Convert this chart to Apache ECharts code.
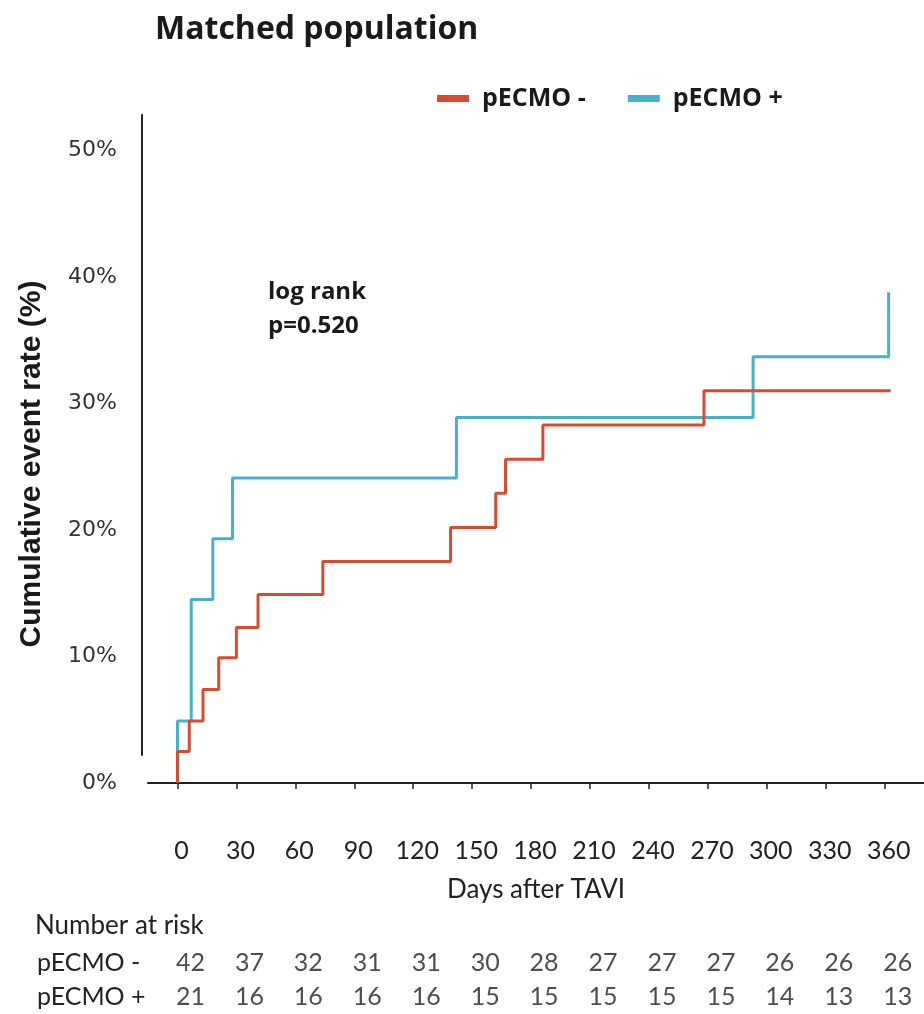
<!DOCTYPE html>
<html>
<head>
<meta charset="utf-8">
<script src="https://cdn.jsdelivr.net/npm/echarts@6/dist/echarts.min.js"></script>
<style>html,body{margin:0;padding:0;background:#fff;}#c{width:924px;height:1014px;}</style>
</head>
<body>
<div id="c"></div>
<script>
// Kaplan-Meier step points (days after TAVI, cumulative event rate %)
var minusDays  = [0, 0, 6, 13, 21, 30, 41, 74, 139, 162, 167, 186, 268, 363];
var minusRates = [0, 2.5, 4.9, 7.4, 9.9, 12.3, 14.9, 17.5, 20.2, 22.9, 25.6, 28.3, 31.0, 31.0];
var plusDays   = [0, 0, 7, 18, 28, 142, 293, 362];
var plusRates  = [0, 4.9, 14.5, 19.3, 24.1, 28.9, 33.7, 38.8];

var xTicks = [0, 30, 60, 90, 120, 150, 180, 210, 240, 270, 300, 330, 360];
var yTicks = [0, 10, 20, 30, 40, 50];

var riskGroups = ['pECMO -', 'pECMO +'];
var riskMinus = [42, 37, 32, 31, 31, 30, 28, 27, 27, 27, 26, 26, 26];
var riskPlus  = [21, 16, 16, 16, 16, 15, 15, 15, 15, 15, 14, 13, 13];

function zip(a, b) { return a.map(function (v, i) { return [v, b[i]]; }); }
var riskData = [];
xTicks.forEach(function (d, i) {
  riskData.push([d, riskGroups[0], riskMinus[i]]);
  riskData.push([d, riskGroups[1], riskPlus[i]]);
});

var RED = '#DC4A2E', BLUE = '#43B3CA', TXT = '#1a1a1a';
var chart = echarts.init(document.getElementById('c'), null, {renderer: 'canvas'});
chart.setOption({
  backgroundColor: '#fff',
  animation: false,
  title: {
    text: 'Matched population', left: 150, top: 9,
    textStyle: {fontFamily: 'Open Sans', fontWeight: 'bold', fontSize: 32, color: TXT}
  },
  legend: {
    left: 432, top: 81, itemWidth: 32, itemHeight: 7, itemGap: 42, icon: 'rect',
    data: ['pECMO -', 'pECMO +'],
    textStyle: {fontFamily: 'Open Sans', fontWeight: 'bold', fontSize: 25, color: TXT, padding: [0, 0, 0, 8]}
  },
  grid: [
    {left: 148, right: 0, top: 115, bottom: 201},
    {left: 142, width: 10, top: 115, bottom: 259},
    {left: 148, right: 0, top: 946, height: 68}
  ],
  xAxis: [
    {
      gridIndex: 0, type: 'value', min: -15, max: 380,
      axisLine: {show: true, lineStyle: {color: '#222', width: 2}},
      axisTick: {show: true, customValues: xTicks, length: 6, lineStyle: {color: '#222', width: 1.5}},
      axisLabel: {customValues: xTicks, fontFamily: 'Lato', fontSize: 25, color: '#222', margin: 25, padding: [0, 0, 0, 8]},
      splitLine: {show: false},
      name: 'Days after TAVI', nameLocation: 'middle', nameGap: 64,
      nameTextStyle: {fontFamily: 'Lato', fontSize: 26, color: '#222'}
    },
    {gridIndex: 1, type: 'value', show: false},
    {gridIndex: 2, type: 'value', min: -15, max: 380, show: false}
  ],
  yAxis: [
    {
      gridIndex: 0, type: 'value', min: -2.37, max: 52.8,
      axisLine: {show: false}, axisTick: {show: false}, splitLine: {show: false},
      axisLabel: {customValues: yTicks, formatter: '{value}%', fontFamily: 'DejaVu Sans', fontSize: 22, color: '#333', margin: 31, padding: [8, 0, 0, 0]},
      name: 'Cumulative event rate (%)', nameLocation: 'middle', nameRotate: 90, nameGap: 101,
      nameTextStyle: {fontFamily: 'Liberation Sans', fontWeight: 'bold', fontSize: 30, color: TXT}
    },
    {
      gridIndex: 1, type: 'value', min: 0, max: 1,
      axisLine: {show: true, lineStyle: {color: '#222', width: 2}},
      axisTick: {show: false}, axisLabel: {show: false}, splitLine: {show: false}
    },
    {
      gridIndex: 2, type: 'category', data: riskGroups, inverse: true,
      axisLine: {show: false}, axisTick: {show: false}, splitLine: {show: false},
      axisLabel: {align: 'left', margin: 111, fontFamily: 'Lato', fontSize: 25, color: '#222'}
    }
  ],
  series: [
    {
      name: 'pECMO +', type: 'line', step: 'end', xAxisIndex: 0, yAxisIndex: 0,
      data: zip(plusDays, plusRates), showSymbol: false, symbol: 'none',
      lineStyle: {color: BLUE, width: 3}, itemStyle: {color: BLUE}, z: 2
    },
    {
      name: 'pECMO -', type: 'line', step: 'end', xAxisIndex: 0, yAxisIndex: 0,
      data: zip(minusDays, minusRates), showSymbol: false, symbol: 'none',
      lineStyle: {color: RED, width: 3}, itemStyle: {color: RED}, z: 3
    },
    {
      type: 'scatter', xAxisIndex: 2, yAxisIndex: 2, data: riskData,
      symbolSize: 1, itemStyle: {color: 'rgba(0,0,0,0)'}, silent: true,
      label: {show: true, position: 'inside', offset: [13, 0], formatter: function (p) { return p.value[2]; },
        fontFamily: 'Lato', fontSize: 25, color: '#222'}
    }
  ],
  graphic: [
    {type: 'text', left: 35, top: 913, style: {text: 'Number at risk', font: '26px Lato', fill: '#222'}},
    {type: 'text', left: 268, top: 280, style: {text: 'log rank', font: 'bold 24px "Open Sans"', fill: TXT}},
    {type: 'text', left: 268, top: 314, style: {text: 'p=0.520', font: 'bold 24px "Open Sans"', fill: TXT}}
  ]
});
</script>
</body>
</html>
